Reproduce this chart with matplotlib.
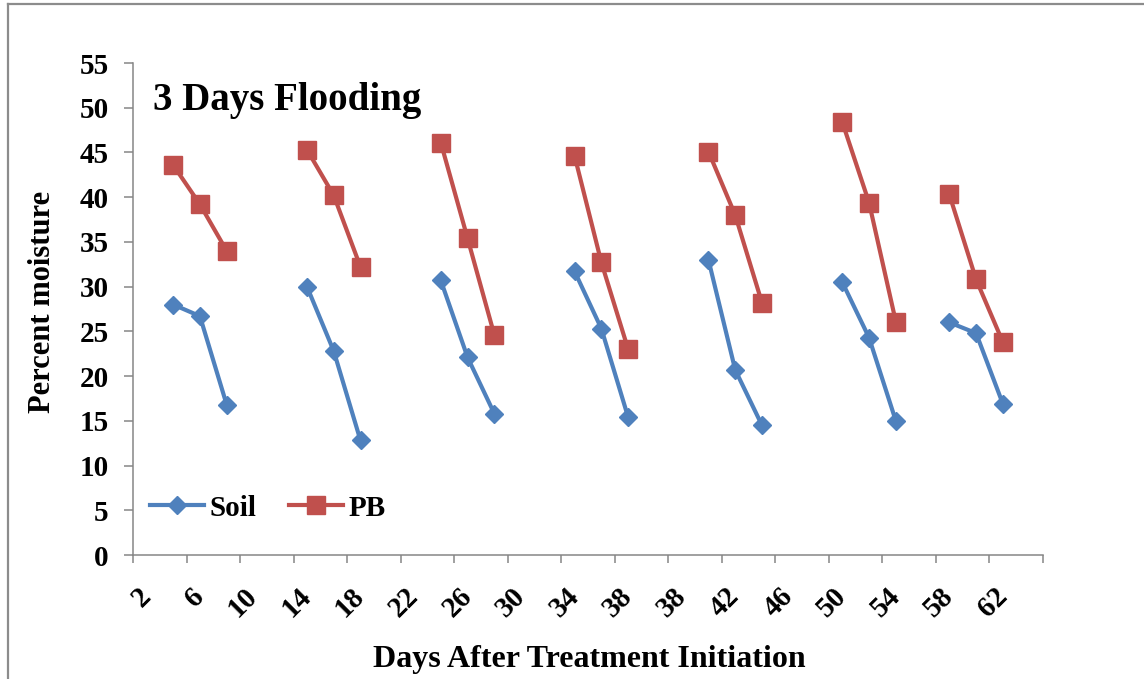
import numpy as np
import matplotlib
matplotlib.use("Agg")
import matplotlib.pyplot as plt
from matplotlib.lines import Line2D

plt.rcParams["font.family"] = ["Liberation Serif", "DejaVu Serif"]
plt.rcParams["font.weight"] = "bold"

# 34 категории по оси X, точки только в некоторых (остальное — пропуски)
n_cat = 34
soil = [None, 28.0, 26.7, 16.8, None, None, 30.0, 22.8, 12.8, None, None,
        30.7, 22.1, 15.8, None, None, 31.7, 25.3, 15.4, None, None,
        33.0, 20.7, 14.5, None, None, 30.5, 24.3, 15.0, None,
        26.0, 24.8, 16.9, None]
pb = [None, 43.6, 39.2, 34.0, None, None, 45.3, 40.2, 32.2, None, None,
      46.1, 35.4, 24.6, None, None, 44.6, 32.7, 23.0, None, None,
      45.1, 38.0, 28.2, None, None, 48.4, 39.4, 26.1, None,
      40.3, 30.8, 23.8, None]
x_labels = ["2", "6", "10", "14", "18", "22", "26", "30", "34",
            "38", "38", "42", "46", "50", "54", "58", "62"]

soil = np.array([np.nan if v is None else v for v in soil])
pb = np.array([np.nan if v is None else v for v in pb])
x = np.arange(n_cat)

fig = plt.figure(figsize=(11.44, 6.79), dpi=100)
ax = fig.add_axes([133 / 1144, 1 - 555 / 679, 910 / 1144, 492 / 679])

ax.plot(x, soil, color="#4F81BD", lw=3, marker="D", ms=9, label="Soil")
ax.plot(x, pb, color="#C0504D", lw=3, marker="s", ms=13, label="PB")

ax.set_xlim(-0.5, n_cat - 0.5)
ax.set_ylim(0, 55)
ax.set_yticks(np.arange(0, 56, 5))

# подписи через одну категорию, засечки между категориями
ax.set_xticks(np.arange(0, n_cat - 1, 2))
ax.set_xticklabels(x_labels, rotation=45, ha="right", va="center",
                   rotation_mode="anchor", fontsize=21, fontweight="bold")
ax.set_xticks(np.arange(-0.5, n_cat, 2), minor=True)
ax.tick_params(axis="x", which="major", length=0, pad=27)
ax.tick_params(axis="x", which="minor", length=6, color="#868686", width=1.1)
ax.tick_params(axis="y", length=6.5, color="#868686", width=1.1, pad=11,
               labelsize=21)
for lab in ax.get_yticklabels():
    lab.set_fontweight("bold")

for s in ["top", "right"]:
    ax.spines[s].set_visible(False)
for s in ["left", "bottom"]:
    ax.spines[s].set_color("#868686")
    ax.spines[s].set_linewidth(1.1)

ax.text(153 / 1144, 1 - 110 / 679, "3 Days Flooding", transform=fig.transFigure,
        fontsize=28, fontweight="bold", ha="left", va="baseline")

fig.text(589 / 1144, 1 - 660 / 679, "Days After Treatment Initiation",
         fontsize=23, fontweight="bold", ha="center", va="center")
fig.text(43 / 1144, 1 - 302 / 679, "Percent moisture", rotation=90,
         fontsize=22, fontweight="bold", ha="center", va="center")

ax.legend(loc="center left", bbox_to_anchor=((150 - 133) / 910, (555 - 508) / 492),
          ncol=2, frameon=False, handlelength=1.85,
          handletextpad=0.2, columnspacing=1.1, borderpad=0, borderaxespad=0,
          numpoints=1, prop={"weight": "bold", "size": 21})

# рамка диаграммы
fig.add_artist(Line2D([8 / 1144, 8 / 1144], [0, 1 - 4 / 679],
                      transform=fig.transFigure, color="#8C8C8C", lw=1.6))
fig.add_artist(Line2D([8 / 1144, 1], [1 - 4 / 679, 1 - 4 / 679],
                      transform=fig.transFigure, color="#8C8C8C", lw=1.6))

fig.savefig("out.png", dpi=100)
